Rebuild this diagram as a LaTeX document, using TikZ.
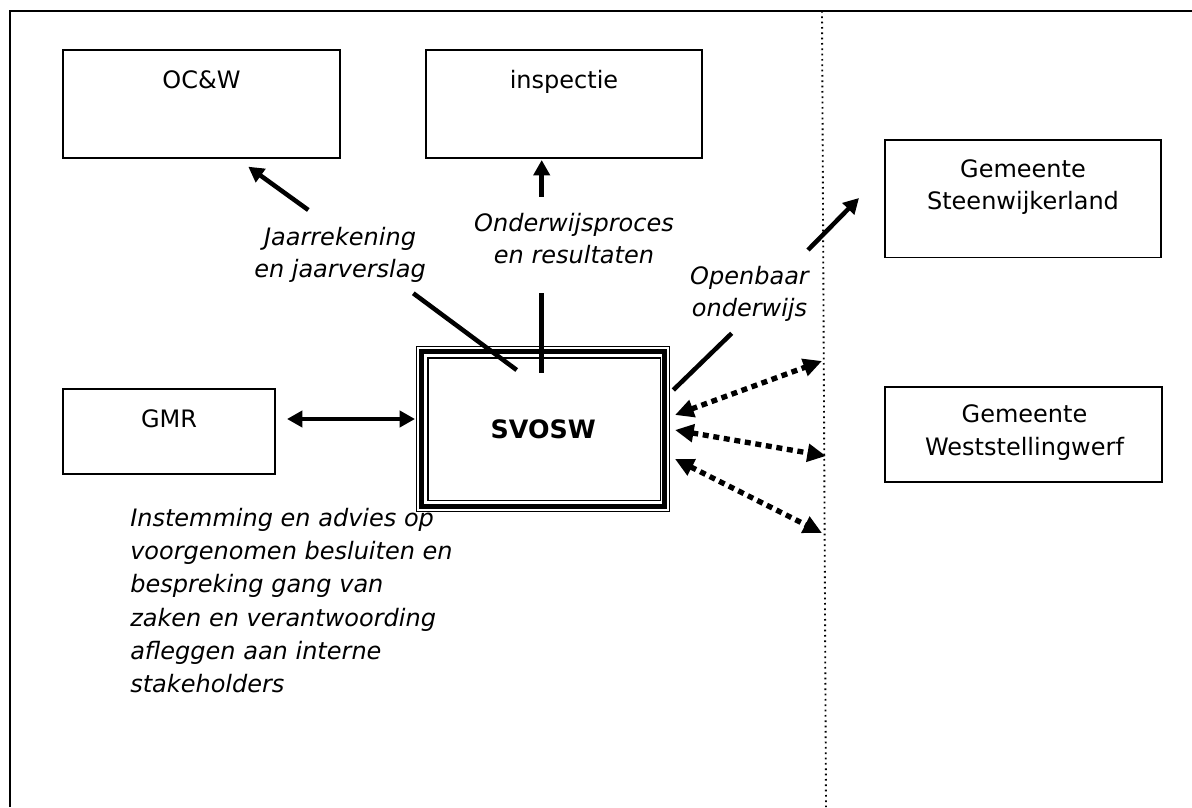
\documentclass[tikz,border=0pt]{standalone}
\usepackage{fontspec}
\setmainfont{DejaVu Sans}
\usetikzlibrary{arrows.meta}
\begin{document}
\begin{tikzpicture}[x=0.75pt,y=-0.75pt,
  box/.style={draw, line width=1pt, inner sep=0pt, outer sep=0pt, fill=white},
  txt/.style={font=\fontsize{18}{24.5}\selectfont, inner sep=0pt, align=center},
  lbl/.style={font=\fontsize{18}{24.5}\selectfont\itshape, inner sep=0pt, align=center},
  conn/.style={line width=3.4pt},
  arr/.style={conn, -{Triangle[length=11.5pt,width=12pt]}},
  darr/.style={line width=4pt, dash pattern=on 4.5pt off 3.5pt,
    {Triangle[length=14pt,width=13pt]}-{Triangle[length=14pt,width=13pt]}},
  divider/.style={line width=1.4pt, dash pattern=on 1.3pt off 2.7pt}
]
\useasboundingbox (0,0) rectangle (1192,807);
% frame
\draw[line width=1pt] (10,807) -- (10,11) -- (1192,11);
% divider
\coordinate (dtop) at (822,11);
\coordinate (dbot) at (826,807);
\draw[divider] (dtop) -- (dbot);

% long italic text
\node[lbl, align=left, font=\fontsize{18}{25}\selectfont\itshape, anchor=west] (instem) at (130,600.5)
  {Instemming en advies op\\voorgenomen besluiten en\\bespreking gang van\\zaken en verantwoording\\afleggen aan interne\\stakeholders};

% boxes
\node[box, minimum width=207.75pt, minimum height=81pt] (ocw) at (201.5,104) {};
\node[txt, anchor=base] (ocwt) at (201.5,88.3) {OC\&W};
\node[box, minimum width=207pt, minimum height=81pt] (insp) at (564,104) {};
\node[txt, anchor=base] (inspt) at (564,88.3) {inspectie};
\node[box, minimum width=159pt, minimum height=63.75pt] (gmr) at (169,431.5) {};
\node[txt, anchor=base] (gmrt) at (169,427) {GMR};
\node[box, minimum width=207pt, minimum height=88.1pt] (steen) at (1023,198.75) {};
\node[txt, font=\fontsize{18}{24}\selectfont] (steent) at (1023,187.2) {Gemeente\\Steenwijkerland};
\node[box, minimum width=207.75pt, minimum height=71.25pt] (west) at (1023.5,434.5) {};
\node[txt, font=\fontsize{18}{25}\selectfont] (westt) at (1024.5,432.5) {Gemeente\\Weststellingwerf};

% SVOSW triple box
\node[box, line width=0.75pt, minimum width=190.1pt, minimum height=124.1pt,
  font=\fontsize{19}{22}\selectfont\bfseries] (svosw) at (543.25,429.25) {SVOSW};
\draw[line width=3.75pt] ([shift={(5,5)}]svosw.north west) rectangle ([shift={(-5,-5)}]svosw.south east);
\draw[line width=1.3pt] ([shift={(11.5,11.5)}]svosw.north west) rectangle ([shift={(-9.5,-11.5)}]svosw.south east);

% labels
\node[lbl] (jaar) at (340,255) {Jaarrekening\\en jaarverslag};
\node[lbl] (onderw) at (574,238.5) {Onderwijsproces\\en resultaten};
\node[lbl] (openb) at (749.5,293.9) {Openbaar\\onderwijs};

% connectors
\coordinate (j0) at (516.7,370);
\coordinate (j1) at (413.3,293.3);
\coordinate (j2) at (308.3,210);
\coordinate (j3) at (248.3,166.7);
\draw[conn] (j0) -- (j1);
\draw[arr] (j2) -- (j3);

\coordinate (i0) at (541.7,372.7);
\coordinate (i1) at (541.7,293.3);
\coordinate (i2) at (541.7,196.7);
\coordinate (i3) at (541.7,160);
\draw[conn] (i0) -- (i1);
\draw[arr] (i2) -- (i3);

\coordinate (o0) at (673.3,390);
\coordinate (o1) at (731.7,333.3);
\coordinate (o2) at (808,250);
\coordinate (o3) at (859,198);
\draw[conn] (o0) -- (o1);
\draw[arr] (o2) -- (o3);

\coordinate (g0) at (287,419);
\coordinate (g1) at (415,419);
\draw[conn, {Triangle[length=11.5pt,width=12pt]}-{Triangle[length=11.5pt,width=12pt]}] (g0) -- (g1);

\coordinate (s1) at (675,415);
\coordinate (s2) at (675,430);
\coordinate (s3) at (675,459);
\coordinate (e1) at (822,361);
\coordinate (e2) at (826,456);
\coordinate (e3) at (822,533);
\draw[darr] (s1) -- (e1);
\draw[darr] (s2) -- (e2);
\draw[darr] (s3) -- (e3);
\end{tikzpicture}
\end{document}
